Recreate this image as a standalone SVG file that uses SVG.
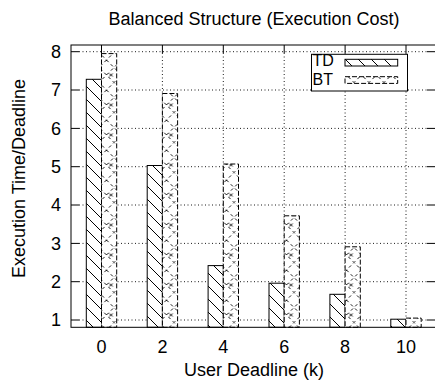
<svg xmlns="http://www.w3.org/2000/svg" width="435" height="387" viewBox="0 0 435 387">
  <style>
    text { font-family: "Liberation Sans", Arial, sans-serif; font-size: 18px; fill: #000; }
    .key { font-size: 16px; }
    .grid { stroke: #000; stroke-width: 0.9; stroke-dasharray: 1 2.5; fill: none; }
    .axis { stroke: #000; stroke-width: 1; fill: none; }
    .td { fill: url(#hatchTD); stroke: #000; stroke-width: 1; }
    .bt { fill: url(#hatchBT); stroke: #000; stroke-width: 1; stroke-dasharray: 5 2; }
  </style>
  <defs>
    <!-- back-slash hatch used for TD -->
    <pattern id="hatchTD" patternUnits="userSpaceOnUse" width="13" height="13">
      <rect width="13" height="13" fill="#fff"/>
      <path d="M0,0 L13,13 M-1,12 L1,14 M12,-1 L14,1" stroke="#000" stroke-width="1"/>
    </pattern>
    <!-- dashed cross hatch with small crosses used for BT -->
    <pattern id="hatchBT" patternUnits="userSpaceOnUse" x="1.5" width="15" height="30">
      <rect width="15" height="30" fill="#fff"/>
      <path d="M0,0 L15,15 L0,30 M15,0 L0,15 L15,30" stroke="#000" stroke-width="0.9" stroke-dasharray="3 3" fill="none"/>
      <path d="M3,13.5 L6,16.5 M6,13.5 L3,16.5" stroke="#000" stroke-width="1"/>
    </pattern>
  </defs>

  <rect width="435" height="387" fill="#fff"/>

  <!-- title -->
  <text x="254" y="25" text-anchor="middle">Balanced Structure (Execution Cost)</text>

  <!-- grid -->
  <g id="grid">
    <path class="grid" d="M79,51.7 H427 M79,90 H427 M79,128.4 H427 M79,166.7 H427 M79,205 H427 M79,243.4 H427 M79,281.7 H427 M79,320 H427"/>
    <path class="grid" d="M101.5,53 V327 M162.4,53 V327 M223.3,53 V327 M284.2,53 V327 M345.1,53 V327 M406,53 V327"/>
  </g>

  <!-- bars -->
  <g id="bars-TD">
    <rect class="td" x="86.3" y="79.3" width="15.2" height="248"/>
    <rect class="td" x="147.2" y="165.5" width="15.2" height="161.8"/>
    <rect class="td" x="208.1" y="265.6" width="15.2" height="61.7"/>
    <rect class="td" x="269" y="283.2" width="15.2" height="44.1"/>
    <rect class="td" x="329.9" y="294.3" width="15.2" height="33"/>
    <rect class="td" x="390.8" y="319.2" width="15.2" height="8.1"/>
  </g>
  <g id="bars-BT">
    <rect class="bt" x="101.5" y="53.6" width="15.2" height="273.7"/>
    <rect class="bt" x="162.4" y="93.5" width="15.2" height="233.8"/>
    <rect class="bt" x="223.3" y="164" width="15.2" height="163.3"/>
    <rect class="bt" x="284.2" y="215.8" width="15.2" height="111.5"/>
    <rect class="bt" x="345.1" y="246.8" width="15.2" height="80.5"/>
    <rect class="bt" x="406" y="318.1" width="15.2" height="9.2"/>
  </g>

  <!-- frame and ticks -->
  <g id="axes">
    <rect class="axis" x="71" y="45" width="365" height="282.3"/>
    <path class="axis" d="M71,51.7 h8 M71,90 h8 M71,128.4 h8 M71,166.7 h8 M71,205 h8 M71,243.4 h8 M71,281.7 h8 M71,320 h8"/>
    <path class="axis" d="M427,51.7 h9 M427,90 h9 M427,128.4 h9 M427,166.7 h9 M427,205 h9 M427,243.4 h9 M427,281.7 h9 M427,320 h9"/>
    <path class="axis" d="M101.5,45 v8 M162.4,45 v8 M223.3,45 v8 M284.2,45 v8 M345.1,45 v8 M406,45 v8"/>
  </g>

  <!-- tick labels -->
  <g id="ytick-labels" text-anchor="end">
    <text x="61" y="58">8</text>
    <text x="61" y="96.3">7</text>
    <text x="61" y="134.7">6</text>
    <text x="61" y="173">5</text>
    <text x="61" y="211.3">4</text>
    <text x="61" y="249.7">3</text>
    <text x="61" y="288">2</text>
    <text x="61" y="326.3">1</text>
  </g>
  <g id="xtick-labels" text-anchor="middle">
    <text x="101.5" y="353">0</text>
    <text x="162.4" y="353">2</text>
    <text x="223.3" y="353">4</text>
    <text x="284.2" y="353">6</text>
    <text x="345.1" y="353">8</text>
    <text x="406" y="353">10</text>
  </g>

  <!-- axis labels -->
  <text x="254" y="376" text-anchor="middle">User Deadline (k)</text>
  <text transform="translate(25,178.5) rotate(-90)" text-anchor="middle">Execution Time/Deadline</text>

  <!-- legend -->
  <g id="legend">
    <rect x="311.5" y="54.3" width="96" height="36.7" fill="#fff" stroke="#000" stroke-width="1"/>
    <text class="key" x="312.5" y="66">TD</text>
    <text class="key" x="312.5" y="84.5">BT</text>
    <rect class="td" x="345" y="59.3" width="52.7" height="6.7"/>
    <rect class="bt" x="345" y="76.7" width="52.7" height="6.7"/>
  </g>
</svg>
